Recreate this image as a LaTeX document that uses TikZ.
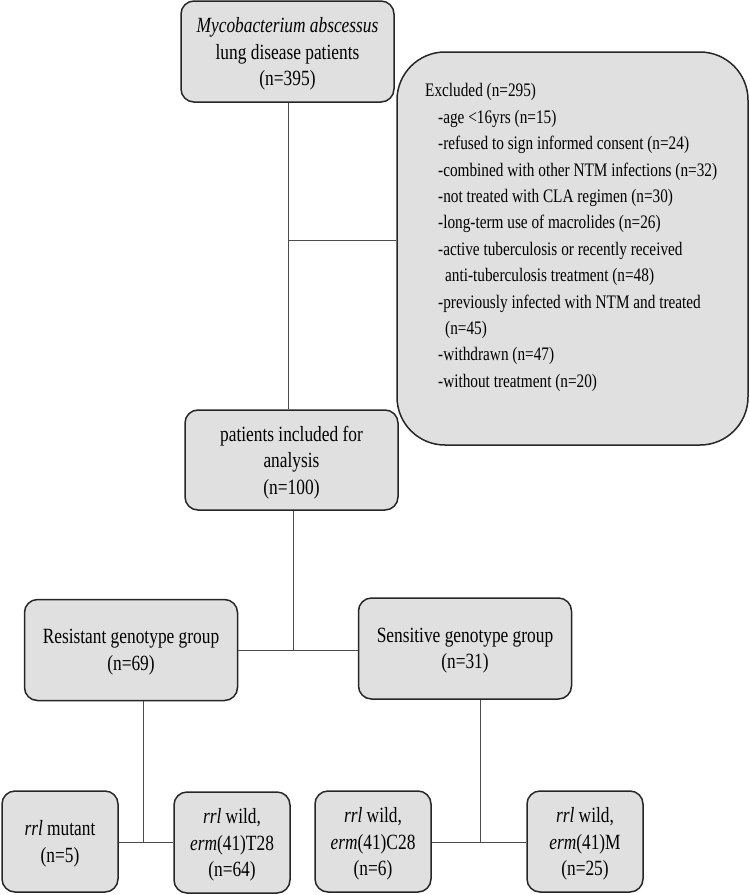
\documentclass[tikz,border=0pt]{standalone}
\usepackage{fontspec}
\setmainfont{Liberation Serif}[FakeStretch=0.8]

\begin{document}
\begin{tikzpicture}[%
        x=1pt, y=-1pt, % Pixelraster des Originals
        grp/.style={draw=black!85, line width=1.5pt, fill=black!12,
                    rounded corners=13pt, inner sep=0pt, align=center,
                    text depth=-7.5pt, % Text etwas tiefer setzen
                    font=\fontsize{21.7}{26.4}\selectfont},
        grpbig/.style={grp, minimum width=213pt, minimum height=101pt},
        grpsmall/.style={grp, minimum width=116pt, minimum height=101pt},
        lnk/.style={draw=black!70, line width=0.9pt}
        ]
            \useasboundingbox (0,0) rectangle (750,895);

            % Kaesten
            \node[grpbig] (msa) at (287.5,51.5)
                {\textit{Mycobacterium abscessus}\\lung disease patients\\(n=395)};
            \node[grp, rounded corners=48pt, minimum width=351pt,
                  minimum height=393pt] (excl) at (572.5,248.5) {};
            \node[anchor=north west, align=left, inner sep=0pt,
                  font=\fontsize{19.1}{26.4}\selectfont] (excltxt) at (425,83.5)
                {Excluded (n=295)\\
                 \hspace*{13pt}-age <16yrs (n=15)\\
                 \hspace*{13pt}-refused to sign informed consent (n=24)\\
                 \hspace*{13pt}-combined with other NTM infections (n=32)\\
                 \hspace*{13pt}-not treated with CLA regimen (n=30)\\
                 \hspace*{13pt}-long-term use of macrolides (n=26)\\
                 \hspace*{13pt}-active tuberculosis or recently received\\
                 \hspace*{20pt}anti-tuberculosis treatment (n=48)\\
                 \hspace*{13pt}-previously infected with NTM and treated\\
                 \hspace*{20pt}(n=45)\\
                 \hspace*{13pt}-withdrawn (n=47)\\
                 \hspace*{13pt}-without treatment (n=20)};
            \node[grpbig, minimum height=100pt] (incl) at (291.5,460)
                {patients included for\\analysis\\(n=100)};
            \node[grpbig] (res) at (131,650)
                {Resistant genotype group\\(n=69)};
            \node[grpbig] (sens) at (465,648.5)
                {Sensitive genotype group\\(n=31)};
            \node[grpsmall] (mut) at (60,841.5)
                {\textit{rrl} mutant\\(n=5)};
            \node[grpsmall] (t28) at (232,842.5)
                {\textit{rrl} wild,\\\textit{erm}(41)T28\\(n=64)};
            \node[grpsmall] (c28) at (373,841.5)
                {\textit{rrl} wild,\\\textit{erm}(41)C28\\(n=6)};
            \node[grpsmall] (ermM) at (585,841.5)
                {\textit{rrl} wild,\\\textit{erm}(41)M\\(n=25)};

            % Verzweigungspunkte
            \coordinate (j1) at (288,240);
            \coordinate (j2) at (293,650);
            \coordinate (j3) at (143,842);
            \coordinate (j4) at (480,842);

            % Verbindungen
            \draw[lnk]  (msa.south -| j1) -- (incl.north -| j1)
                        (j1) -- (j1 -| excl.west);
            \draw[lnk]  (j2 |- incl.south) -- (j2)
                        (res.east |- j2) -- (sens.west |- j2);
            \draw[lnk]  (j3 |- res.south) -- (j3)
                        (mut.east |- j3) -- (t28.west |- j3);
            \draw[lnk]  (j4 |- sens.south) -- (j4)
                        (c28.east |- j4) -- (ermM.west |- j4);

        \end{tikzpicture}
\end{document}
